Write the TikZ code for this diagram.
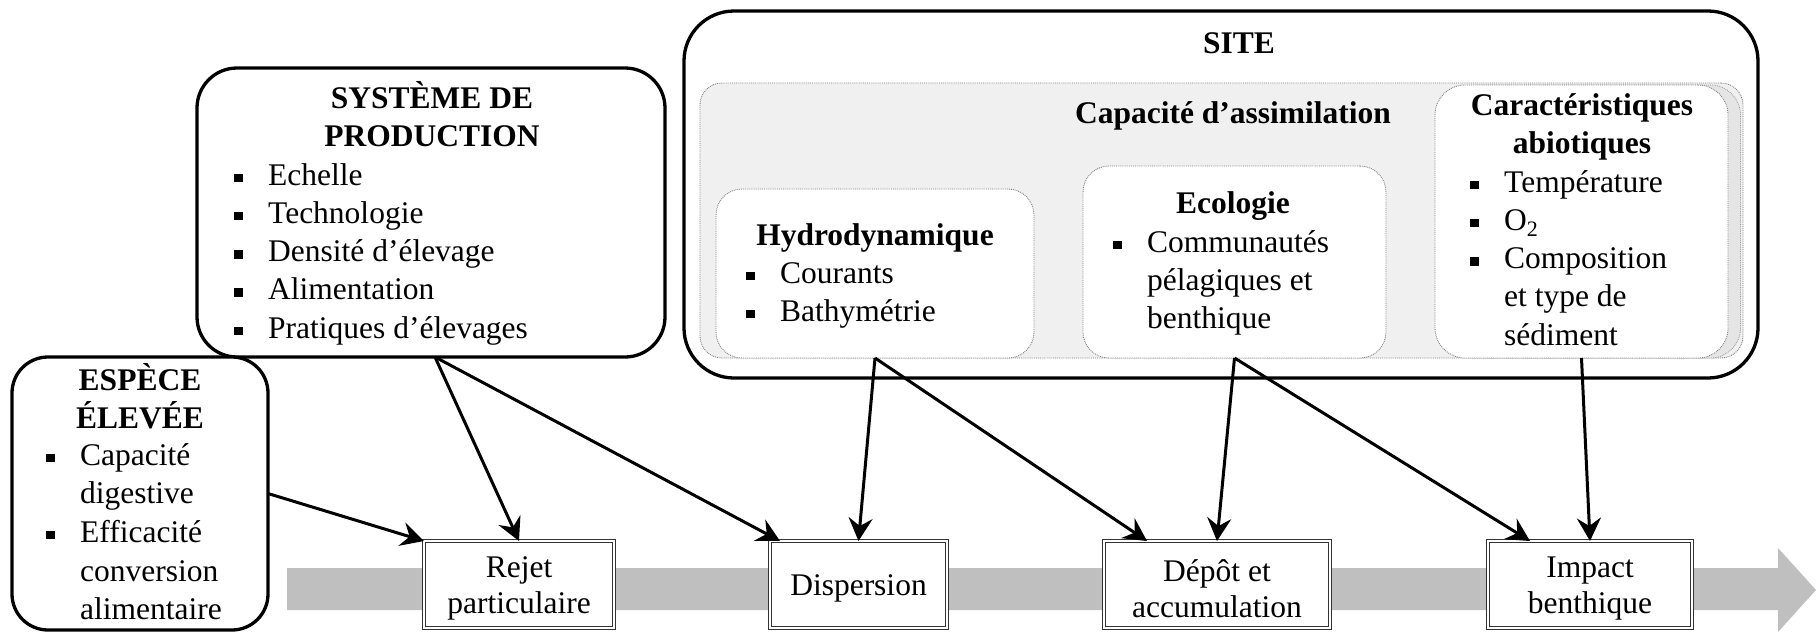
\documentclass[tikz,border=0pt]{standalone}
\usepackage{fontspec}
\setmainfont{Liberation Serif}
\usetikzlibrary{arrows.meta,calc}
\newcommand{\bsq}{\rule[3pt]{8.5pt}{8.5pt}}
\newcommand{\itm}[1]{\makebox[34pt][l]{\bsq}#1}
\newcommand{\cnt}[1]{\hspace*{34pt}#1}
\tikzset{
  bigbox/.style={draw=black, line width=3.3pt, inner sep=0pt, outer sep=0pt, fill=white},
  subbox/.style={draw=black!50, densely dotted, line width=0.9pt, rounded corners=26pt, fill=white, inner sep=0pt, outer sep=0pt},
  capbox/.style={draw=black!50, densely dotted, line width=0.9pt, rounded corners=22pt, fill=black!6, inner sep=0pt, outer sep=0pt},
  procbox/.style={draw=black!80, double=white, double distance=1.6pt, line width=1.1pt, fill=white, inner sep=0pt, outer sep=0pt},
  proctxt/.style={inner sep=0pt, align=center, font=\fontsize{31.5}{36}\selectfont},
  ttl/.style={inner sep=0pt, font=\fontsize{31.5}{38.3}\selectfont\bfseries},
  lst/.style={inner sep=0pt, anchor=base west, font=\fontsize{31.5}{38.3}\selectfont},
  flow/.style={-{Stealth[length=23pt,width=24pt,inset=8pt]}, line width=3pt, black}
}
\begin{document}
\begin{tikzpicture}[x=1pt,y=-1pt]
\useasboundingbox (0,0) rectangle (1816,633);

% SITE
\node[bigbox, rounded corners=50pt, minimum width=1074pt, minimum height=367pt] (site) at (1221,194.5) {};
\node[capbox, minimum width=1043pt, minimum height=275pt] (cap) at (1221.5,220.5) {};
\node[draw=black!40, densely dotted, line width=0.8pt, rounded corners=30pt, fill=black!10, minimum width=293pt, minimum height=273pt, inner sep=0pt] (carsh) at (1594,221.5) {};
\node[subbox, minimum width=318pt, minimum height=169pt] (hyd) at (875,273.5) {};
\node[subbox, minimum width=303pt, minimum height=192pt] (eco) at (1234.5,262) {};
\node[subbox, rounded corners=30pt, minimum width=293pt, minimum height=273pt] (car) at (1581.5,221.5) {};

\node[ttl, anchor=base] (site-t) at (1239,53) {SITE};
\node[ttl, anchor=base] (cap-t) at (1233,123) {Capacité d’assimilation};
\node[ttl, anchor=base] (hyd-t) at (875,245) {Hydrodynamique};
\node[lst] (hyd-l) at (746,283) {\parbox[t]{280pt}{\itm{Courants}\\\itm{Bathymétrie}}};
\node[ttl, anchor=base] (eco-t) at (1233,213) {Ecologie};
\node[lst] (eco-l) at (1113,252) {\parbox[t]{260pt}{\itm{Communautés}\\\cnt{pélagiques et}\\\cnt{benthique}}};
\node[ttl, anchor=base] (car-t) at (1582,115) {\parbox[t]{280pt}{\centering Caractéristiques\\abiotiques}};
\node[lst] (car-l) at (1470,192) {\parbox[t]{250pt}{\itm{Température}\\\itm{O\textsubscript{2}}\\\itm{Composition}\\\cnt{et type de}\\\cnt{sédiment}}};

% SYSTEME DE PRODUCTION
\node[bigbox, rounded corners=40pt, minimum width=468pt, minimum height=289pt] (sys) at (431,212.5) {};
\node[ttl, anchor=base] (sys-t) at (432,108) {\parbox[t]{320pt}{\centering SYSTÈME DE\\PRODUCTION}};
\node[lst] (sys-l) at (234,185) {\parbox[t]{400pt}{\itm{Echelle}\\\itm{Technologie}\\\itm{Densité d’élevage}\\\itm{Alimentation}\\\itm{Pratiques d’élevages}}};

% ESPECE ELEVEE
\node[bigbox, rounded corners=36pt, minimum width=256pt, minimum height=273pt] (esp) at (140,493.5) {};
\node[ttl, anchor=base] (esp-t) at (140,390) {\parbox[t]{240pt}{\centering ESPÈCE\\ÉLEVÉE}};
\node[lst, font=\fontsize{31.5}{38.7}\selectfont] (esp-l) at (46,465) {\parbox[t]{220pt}{\itm{Capacité}\\\cnt{digestive}\\\itm{Efficacité}\\\cnt{conversion}\\\cnt{alimentaire}}};

% flow band
\fill[black!25] (287,568) -- (1778,568) -- (1778,548) -- (1816,590) -- (1778,632) -- (1778,610) -- (287,610) -- cycle;

% process boxes
\node[procbox, minimum width=190pt, minimum height=87pt] (rej) at (519,584.5) {};
\node[procbox, minimum width=177pt, minimum height=87pt] (disp) at (858.5,584.5) {};
\node[procbox, minimum width=226pt, minimum height=87pt] (dep) at (1217,584.5) {};
\node[procbox, minimum width=204pt, minimum height=87pt] (imp) at (1590,584.5) {};
\node[proctxt] (rej-t) at ($(rej.center)+(0,4)$) {Rejet\\particulaire};
\node[proctxt] (disp-t) at ($(disp.center)+(0,4)$) {Dispersion};
\node[proctxt] (dep-t) at ($(dep.center)+(0,4)$) {Dépôt et\\accumulation};
\node[proctxt] (imp-t) at ($(imp.center)+(0,4)$) {Impact\\benthique};

% arrows
\draw[flow] (esp.east) -- (rej.north west);
\draw[flow] ($(sys.south)+(4,0)$) -- (rej.north);
\draw[flow] ($(sys.south)+(4,0)$) -- ($(disp.north west)+(10,0)$);
\draw[flow] (hyd.south) -- (disp.north);
\draw[flow] (hyd.south) -- ($(dep.north west)+(43,0)$);
\draw[flow] (eco.south) -- (dep.north);
\draw[flow] (eco.south) -- ($(imp.north west)+(42,0)$);
\draw[flow] (car.south) -- (imp.north);
\end{tikzpicture}
\end{document}
